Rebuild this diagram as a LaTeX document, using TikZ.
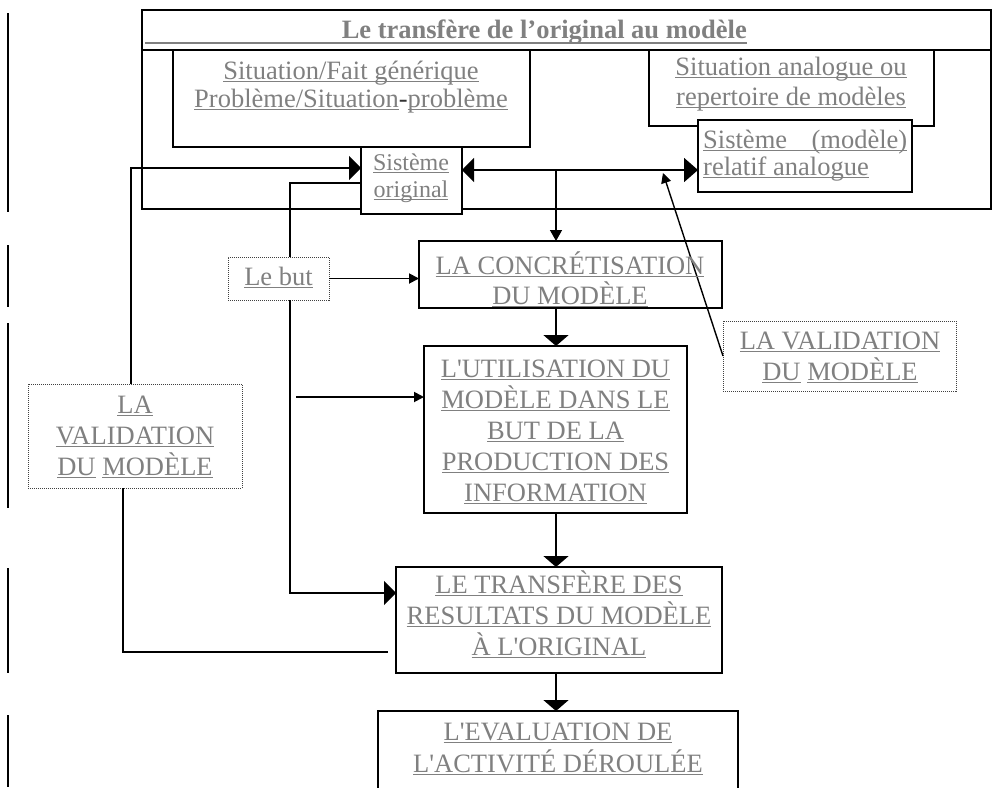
\documentclass[tikz,border=0pt]{standalone}
\usepackage{fontspec}
\setmainfont{Liberation Serif}[Ligatures=TeXOff]
\usetikzlibrary{arrows.meta}
\definecolor{txtgray}{RGB}{128,128,128}
% underline that follows the text colour
\newcommand\ulin[1]{\setbox0=\hbox{#1}\rlap{\rule[-3pt]{\wd0}{1.5pt}}\box0\relax}
\tikzset{
  frame/.style={draw, line width=2pt, inner sep=0pt, outer sep=0pt, anchor=north west, fill=white},
  dotbox/.style={draw=black!75, line width=1pt, dash pattern=on 1pt off 1pt,
                 inner sep=0pt, outer sep=0pt, anchor=north west, fill=white},
  txt/.style={text=txtgray, font=\fontsize{26.5}{30}\selectfont, inner sep=0pt, anchor=base},
  smalltxt/.style={txt, font=\fontsize{24}{27}\selectfont},
  link/.style={line width=1.8pt},
  thinlink/.style={line width=1.4pt},
  bighead/.style={-{Triangle[length=12pt,width=24pt]}},
  bigboth/.style={{Triangle[length=12pt,width=24pt]}-{Triangle[length=14pt,width=24pt]}},
  downhead/.style={-{Triangle[length=11pt,width=25pt]}},
  smallhead/.style={-{Triangle[length=10pt,width=10pt]}},
}
\begin{document}
\begin{tikzpicture}[x=1pt,y=-1pt]
\useasboundingbox (0,0) rectangle (992,787);
\clip (0,0) rectangle (992,787);

% margin bars
\foreach \a/\b in {13/212, 245/307, 323/508, 568/673, 715/787}
  \draw[line width=2pt] (8,\a) -- (8,\b);

% upper frame: the transfer from the original to the model
\node[frame, minimum width=849pt, minimum height=199pt] (outer) at (142,10) {};
\draw[line width=2pt] (outer.west |- 0,50) -- (outer.east |- 0,50);
\node[frame, minimum width=357pt, minimum height=97pt] (sitF) at (173,50) {};
\node[frame, minimum width=285pt, minimum height=76pt] (sitA) at (649,50) {};
\node[frame, minimum width=214pt, minimum height=72pt] (sysM) at (698,120) {};
\node[frame, minimum width=101pt, minimum height=67pt] (sysO) at (361,147) {};

% main column
\node[dotbox, minimum width=101pt, minimum height=43pt] (lebut) at (228,257) {};
\node[frame, minimum width=303pt, minimum height=67pt] (conc) at (419,241) {};
\node[frame, minimum width=263pt, minimum height=167pt] (util) at (424,346) {};
\node[frame, minimum width=326pt, minimum height=106pt] (transf) at (396,567) {};
\node[frame, minimum width=360pt, minimum height=110pt] (eval) at (378,711) {};
\node[dotbox, minimum width=214pt, minimum height=104pt] (valL) at (28,384) {};
\node[dotbox, minimum width=233pt, minimum height=70pt] (valR) at (723,321) {};

% routing points
\coordinate (kL) at (131,168);
\coordinate (kB) at (290,183);
\coordinate (kT) at (290,593);
\coordinate (kU) at (296,397);
\coordinate (kC) at (556,170);
\coordinate (kV) at (663,173);
\coordinate (kD) at (123,652);
\coordinate (kE) at (388,652);

% connectors
\draw[link, bighead] (valL.north -| kL) |- (sysO.west |- kL);
\draw[link] (lebut.north -| kB) |- (sysO.west |- kB);
\draw[link, bighead] (lebut.south -| kB) |- (transf.west |- kT);
\draw[link, smallhead] (kU) -- (util.west |- kU);
\draw[link, smallhead] (lebut.east) -- (conc.west |- lebut.east);
\draw[link, bigboth] (sysO.east |- kC) -- (sysM.west |- kC);
\draw[thinlink, -{Triangle[length=11pt,width=12pt]}] (kC) -- (conc.north -| kC);
\draw[link, downhead] (conc.south -| kC) -- (util.north -| kC);
\draw[link, downhead] (util.south -| kC) -- (transf.north -| kC);
\draw[link, downhead] (transf.south -| kC) -- (eval.north -| kC);
\draw[thinlink, smallhead] (valR.west) -- (kV);
\draw[link] (valL.south -| kD) |- (kE);

% title
\node[txt, font=\fontsize{26.5}{30}\selectfont\bfseries, anchor=base east] (ttl) at (747,38)
  {Le transfère de l’original au modèle};
\draw[txtgray, line width=2.2pt] (145,43) -- (747,43);

% texts
\node[txt] (tF1) at (351,79) {\ulin{Situation/Fait générique}};
\node[txt] (tF2) at (351,107) {\ulin{Problème/Situation}\textcolor{black!80}{-}\ulin{problème}};
\node[txt] (tA1) at (791,75) {\ulin{Situation analogue ou}};
\node[txt] (tA2) at (791,105) {\ulin{repertoire de modèles}};
\node[txt, anchor=base west] (tM1) at (703,148) {\ulin{\hbox to 204pt{Sistème\hfill(modèle)}}};
\node[txt, anchor=base west] (tM2) at (703,175) {\ulin{relatif analogue}};
\node[smalltxt] (tO1) at (411,170) {\ulin{Sistème}};
\node[smalltxt] (tO2) at (411,197) {\ulin{original}};
\node[txt] (tB) at (278.5,285) {\ulin{Le but}};
\node[txt] (tC1) at (570,274) {\ulin{LA CONCRÉTISATION}};
\node[txt] (tC2) at (570,304) {\ulin{DU MODÈLE}};
\node[txt] (tU1) at (555.5,377) {\ulin{L'UTILISATION DU}};
\node[txt] (tU2) at (555.5,408) {\ulin{MODÈLE DANS LE}};
\node[txt] (tU3) at (555.5,439) {\ulin{BUT DE LA}};
\node[txt] (tU4) at (555.5,470) {\ulin{PRODUCTION DES}};
\node[txt] (tU5) at (555.5,501) {\ulin{INFORMATION}};
\node[txt] (tT1) at (559,593) {\ulin{LE TRANSFÈRE DES}};
\node[txt] (tT2) at (559,624) {\ulin{RESULTATS DU MODÈLE}};
\node[txt] (tT3) at (559,655) {\ulin{À L'ORIGINAL}};
\node[txt] (tE1) at (558,740) {\ulin{L'EVALUATION DE}};
\node[txt] (tE2) at (558,772) {\ulin{L'ACTIVITÉ DÉROULÉE}};
\node[txt] (tL1) at (135,413) {\ulin{LA}};
\node[txt] (tL2) at (135,444) {\ulin{VALIDATION}};
\node[txt] (tL3) at (135,475) {\ulin{DU} \ulin{MODÈLE}};
\node[txt] (tR1) at (840,349) {\ulin{LA VALIDATION}};
\node[txt] (tR2) at (840,380) {\ulin{DU} \ulin{MODÈLE}};
\end{tikzpicture}
\end{document}
